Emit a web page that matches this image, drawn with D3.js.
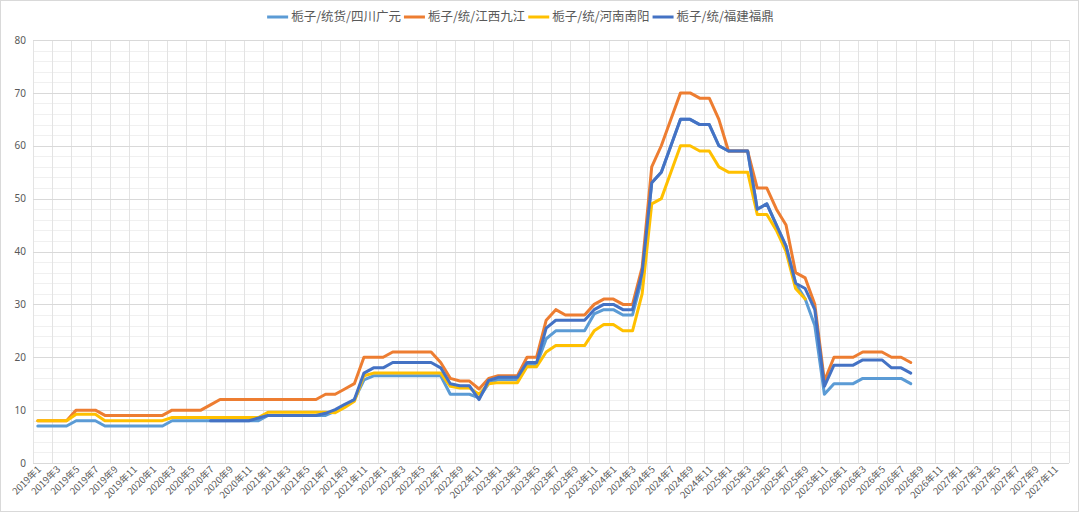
<!DOCTYPE html>
<html><head><meta charset="utf-8">
<script src="https://cdn.jsdelivr.net/npm/d3@7"></script>
<style>body{margin:0;background:#fff}svg{display:block}text{font-family:"Noto Sans CJK SC","Noto Sans",sans-serif}</style>
</head><body>
<svg id="c" width="1080" height="513"></svg>
<script>
// categories: 2019年1 ... 2027年12
const years = [2019,2020,2021,2022,2023,2024,2025,2026,2027];
const months = [1,2,3,4,5,6,7,8,9,10,11,12];
const categories = [];
years.forEach(y => months.forEach(m => categories.push(y + "年" + m)));
const yTicks = [0,10,20,30,40,50,60,70,80];
const seriesNames = ["栀子/统货/四川广元","栀子/统/江西九江","栀子/统/河南南阳","栀子/统/福建福鼎"];
const seriesColors = ["#5B9BD5","#ED7D31","#FFC000","#4472C4"];

const sichuan = [7,7,7,7, 8,8,8, 7,7,7,7,7,7,7, 8,8,8,8,8,8,8,8,8,8, 9,9,9,9,9,9,9,
 9.8,10.8,12,15.7, 16.5,16.5,16.5,16.5,16.5,16.5,16.5,16.5, 13,13,13, 12.3, 15, 15.8,15.8,15.8, 18.6,18.6, 23.5,
 25,25,25,25, 28.2, 29,29, 28,28, 35,
 53,55,60,65,65,64,64,60,59,59,59,48,49,45,41,34,
 31,26,13, 15,15,15, 16,16,16,16,16, 15];
const jiujiang = [8,8,8,8, 10,10,10, 9,9,9,9,9,9,9, 10,10,10,10, 11, 12,12,12,12,12,12,12,12,12,12,12,
 13,13,14,15, 20,20,20, 21,21,21,21,21, 19, 16, 15.5,15.5, 14, 16, 16.5,16.5,16.5, 20,20, 27,
 29,28,28,28, 30, 31,31, 30,30, 37,
 56,60,65,70,70,69,69,65,59,59,59,52,52,48,45,36,35,30,15.5,
 20,20,20, 21,21,21, 20,20, 19];
const nanyang = [8,8,8,8, 9.2,9.2,9.2, 8,8,8,8,8,8,8, 8.6,8.6,8.6,8.6,8.6,8.6,8.6,8.6,8.6,8.6, 9.6,9.6,9.6,9.6,9.6,9.6,9.6,
 9.5,10.5,11.7,16.5, 17,17,17,17,17,17,17,17, 14.5, 14.2,14.2, 13, 15, 15.2,15.2,15.2, 18.2,18.2, 21,
 22.2,22.2,22.2,22.2, 25, 26.2,26.2, 25,25, 32,
 49,50,55,60,60,59,59,56,55,55,55,47,47,44,40,33,31,
 null,null,null,null,null,null,null,null,null,null,null];
const fuding = [null,null,null,null,null,null,null,null,null,null,null,null,null,null,null,null,null,null,
 8,8,8,8,8, 8.5, 9,9,9,9,9,9, 9.4,10.1,11.1,12,17, 18,18, 19,19,19,19,19, 18, 15, 14.6,14.6, 12, 15.6, 16.2,16.2,16.2, 19,19, 25.5,
 27,27,27,27, 29, 30,30, 29,29, 36,
 53,55,60,65,65,64,64,60,59,59,59,48,49,45,41,34,33,29,14.5,
 18.5,18.5,18.5, 19.5,19.5,19.5, 18,18, 17];
const seriesValues = [sichuan, jiujiang, nanyang, fuding];

const svg = d3.select("#c");
const W = 1080, H = 513;
const m = {l:33, r:1069, t:40, b:463};

svg.append("rect").attr("x",0.5).attr("y",0.5).attr("width",W-2).attr("height",H-2)
  .attr("fill","#fff").attr("stroke","#d9d9d9");

const x = d3.scaleBand().domain(categories).range([m.l, m.r]).paddingInner(0).paddingOuter(0);
const y = d3.scaleLinear().domain([0,80]).range([m.b, m.t]);

// minor horizontal grid
const g = svg.append("g");
g.selectAll("line.mn").data(d3.range(0,81,2).filter(v => v%10)).join("line")
  .attr("x1",m.l).attr("x2",m.r).attr("y1",d=>Math.round(y(d))+0.5).attr("y2",d=>Math.round(y(d))+0.5)
  .attr("stroke","#f0f0f0").attr("stroke-width",1);
// vertical grid every 2 categories (at boundaries)
const vb = categories.filter((c,i)=> i%2===0).map(c => x(c)).concat([m.r]);
g.selectAll("line.v").data(vb).join("line")
  .attr("x1",d=>Math.round(d)+0.5).attr("x2",d=>Math.round(d)+0.5).attr("y1",m.t).attr("y2",m.b)
  .attr("stroke","#e3e3e3").attr("stroke-width",1);
// major horizontal grid
g.selectAll("line.mj").data(yTicks).join("line")
  .attr("x1",m.l).attr("x2",m.r).attr("y1",d=>Math.round(y(d))+0.5).attr("y2",d=>Math.round(y(d))+0.5)
  .attr("stroke","#d9d9d9").attr("stroke-width",1);

// y axis labels
const ya = svg.append("g").attr("transform",`translate(${m.l},0)`)
  .call(d3.axisLeft(y).tickValues(yTicks).tickSize(0).tickPadding(7));
ya.select(".domain").remove();
ya.selectAll("text").attr("fill","#595959").style("font-size","10px").style("font-family","'Noto Sans','DejaVu Sans',sans-serif");

// x axis labels
const xa = svg.append("g").attr("transform",`translate(0,${m.b})`)
  .call(d3.axisBottom(x).tickValues(categories.filter((c,i)=>i%2===0)).tickSize(0).tickPadding(0));
xa.select(".domain").remove();
xa.selectAll("text").attr("fill","#595959").style("font-size","9.5px")
  .attr("text-anchor","end").attr("dy","0").attr("y",0)
  .attr("transform","translate(4,7) rotate(-45)");

// lines
const line = d3.line().defined(d => d.v !== null)
  .x(d => x(d.c) + x.bandwidth()/2).y(d => y(d.v));
seriesValues.forEach((vals,si) => {
  svg.append("path").datum(vals.map((v,i)=>({c:categories[i], v})))
    .attr("fill","none").attr("stroke",seriesColors[si]).attr("stroke-width",3)
    .attr("stroke-linejoin","round").attr("stroke-linecap","round").attr("d", line);
});

// legend
const lg = svg.append("g");
let cx = 0;
seriesNames.forEach((n,i) => {
  const it = lg.append("g");
  it.append("line").attr("x1",0).attr("x2",21).attr("y1",0).attr("y2",0)
    .attr("stroke",seriesColors[i]).attr("stroke-width",3);
  const t = it.append("text").attr("x",24).attr("y",4.3).text(n)
    .attr("fill","#595959").style("font-size","12.5px");
  const w = 24 + t.node().getComputedTextLength();
  it.attr("transform",`translate(${cx},0)`);
  cx += w + 3;
});
const total = cx - 3;
lg.attr("transform",`translate(${520.5 - total/2},17)`);
</script>
</body></html>
